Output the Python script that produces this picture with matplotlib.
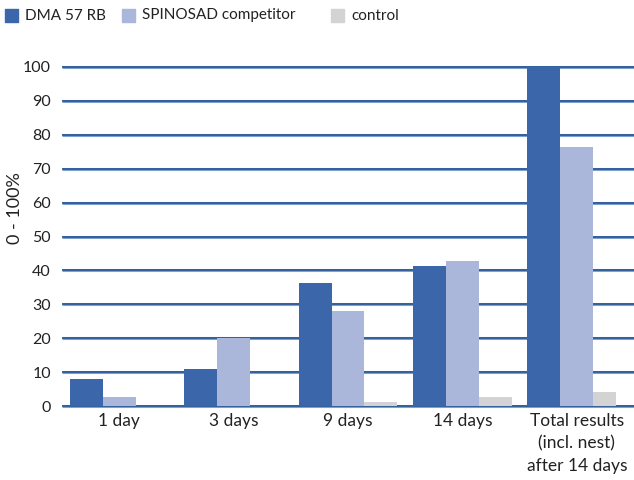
import numpy as np
import matplotlib.pyplot as plt
from matplotlib.patches import Rectangle

plt.rcParams['font.family'] = ['Lato', 'DejaVu Sans']

categories = ['1 day', '3 days', '9 days', '14 days', 'Total results\n(incl. nest)\nafter 14 days']
dma = [8.0, 11.0, 36.3, 41.3, 100.0]
spinosad = [2.7, 20.0, 28.0, 42.8, 76.5]
control = [0.0, 0.0, 1.2, 2.7, 4.0]
series_names = ['DMA 57 RB', 'SPINOSAD competitor', 'control']
yticks = list(range(0, 101, 10))

c_dark = '#3b66aa'
c_light = '#abb6db'
c_grey = '#d3d3d3'
txt = '#222222'

fig = plt.figure(figsize=(6.34, 4.8), dpi=100)
ax = fig.add_axes([62 / 634, 1 - 406 / 480, 1 - 62 / 634, (406 - 67) / 480])

x = np.arange(len(categories))
w = 0.288

# horizontal rules (double tone like the original)
for t in yticks:
    ax.axhline(t, color='#7f9fcc', lw=2.2, zorder=1, clip_on=False, solid_capstyle='butt')
    ax.axhline(t, color='#1f4f90', lw=1.1, zorder=1.1, clip_on=False, solid_capstyle='butt')

ax.bar(x - w, dma, w, color=c_dark, zorder=3)
ax.bar(x, spinosad, w, color=c_light, zorder=3)
# last control bar sits a bit closer in the original (tucked behind the light bar)
shift = np.zeros(len(x))
shift[-1] = -0.09
ax.bar(x + w + shift, control, w, color=c_grey, zorder=2)

ax.set_xlim(-0.5, 4.5)
ax.set_ylim(0, 100)
ax.set_yticks(yticks)
ax.set_yticklabels([str(t) for t in yticks], fontsize=11.5, color=txt)
ax.set_xticks(x)
ax.set_xticklabels(categories, fontsize=12.5, color=txt, linespacing=1.5, va='top')
ax.tick_params(axis='both', length=0)
ax.tick_params(axis='y', pad=8)
ax.tick_params(axis='x', pad=5)
for s in ax.spines.values():
    s.set_visible(False)

fig.text(15 / 634, 1 - 208 / 480, '0 - 100%', rotation=90, fontsize=13,
         color=txt, ha='center', va='center')

# legend row across the top
legend_x = [5, 122, 331]
colors = [c_dark, c_light, c_grey]
for lx, col, name in zip(legend_x, colors, series_names):
    fig.patches.append(Rectangle((lx / 634, 1 - 22 / 480), 13 / 634, 13 / 480,
                                 transform=fig.transFigure, color=col))
    fig.text((lx + 20) / 634, 1 - 15.5 / 480, name, fontsize=11, color=txt,
             ha='left', va='center')

fig.savefig('out.png', dpi=100)
